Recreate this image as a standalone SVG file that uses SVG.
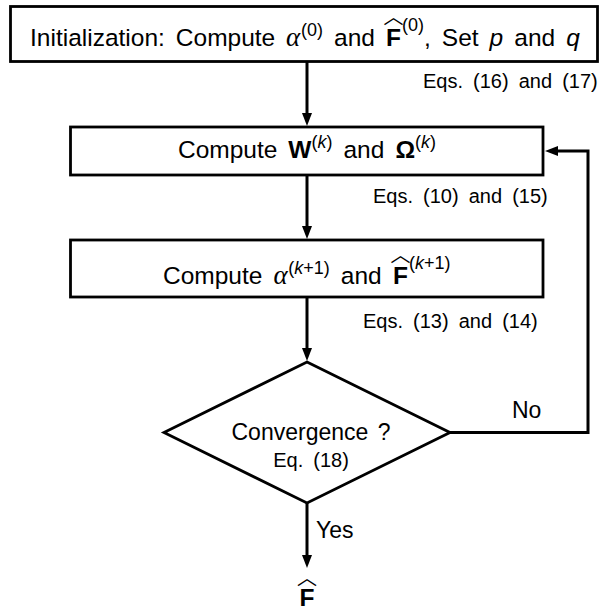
<svg xmlns="http://www.w3.org/2000/svg" width="600" height="613" viewBox="0 0 600 613">
<defs>
<marker id="arr" viewBox="0 0 13 10" refX="7" refY="5" markerWidth="13" markerHeight="10" markerUnits="userSpaceOnUse" orient="auto"><path d="M0,0 L13,5 L0,10 z" fill="#000"/></marker>
</defs>
<style>
.box{fill:#fff;stroke:#000;stroke-width:2.8}
.edge{fill:none;stroke:#000;stroke-width:3}
.t{font-family:"Liberation Sans",Arial,sans-serif;font-size:24.5px;fill:#000;word-spacing:4.2px}
.d{font-family:"Liberation Sans",Arial,sans-serif;font-size:23px;fill:#000;word-spacing:3px}
.s{font-family:"Liberation Sans",Arial,sans-serif;font-size:20px;fill:#000;word-spacing:4.5px}
.m{font-family:"Liberation Serif","Times New Roman",serif;font-style:italic;font-size:27px}
.i{font-style:italic}
.b{font-weight:bold}
.sup{font-size:18px}
.h{font-family:"Noto Sans CJK SC",sans-serif;font-size:20px;font-weight:normal}
</style>
<g id="connectors">
<line class="edge" x1="307" y1="62" x2="307" y2="120" marker-end="url(#arr)"/>
<line class="edge" x1="307" y1="175" x2="307" y2="233" marker-end="url(#arr)"/>
<line class="edge" x1="307" y1="297" x2="307" y2="355" marker-end="url(#arr)"/>
<line class="edge" x1="307" y1="503" x2="307" y2="562" marker-end="url(#arr)"/>
<polyline class="edge" points="450,432.5 588,432.5 588,151 551,151" marker-end="url(#arr)"/>
<text class="d" x="512" y="418">No</text>
<text class="d" x="316" y="538">Yes</text>
</g>
<g id="init">
<rect class="box" x="10.5" y="6.5" width="587" height="55"/>
<text class="t" y="46"><tspan x="30">Initialization: Compute </tspan><tspan class="m" x="286">α</tspan><tspan class="sup" x="301" dy="-10">(0)</tspan><tspan dy="10"> and </tspan><tspan class="b" x="386">F</tspan><tspan class="h" x="383.5" y="24">︿</tspan><tspan class="sup" x="402" y="31">(0)</tspan><tspan y="46">, Set </tspan><tspan class="i">p</tspan> and <tspan class="i">q</tspan></text>
<text class="s" x="423" y="88">Eqs. (16) and (17)</text>
</g>
<g id="computeW">
<rect class="box" x="70.5" y="127" width="472.5" height="48"/>
<text class="t" x="307" y="158" text-anchor="middle">Compute <tspan class="b">W</tspan><tspan class="sup" dy="-10">(<tspan class="i">k</tspan>)</tspan><tspan dy="10"> and </tspan><tspan class="b">Ω</tspan><tspan class="sup" dy="-10">(<tspan class="i">k</tspan>)</tspan></text>
<text class="s" x="373" y="203">Eqs. (10) and (15)</text>
</g>
<g id="computeAlpha">
<rect class="box" x="70.5" y="240" width="472.5" height="57"/>
<text class="t" y="284"><tspan x="163">Compute </tspan><tspan class="m" x="273.4">α</tspan><tspan class="sup" x="288.3" dy="-10">(<tspan class="i">k</tspan>+1)</tspan><tspan dy="10"> and </tspan><tspan class="b" x="393">F</tspan><tspan class="h" x="390.5" y="262">︿</tspan><tspan class="sup" x="409" y="269">(<tspan class="i">k</tspan>+1)</tspan></text>
<text class="s" x="363" y="328">Eqs. (13) and (14)</text>
</g>
<g id="convergence">
<polygon class="box" points="307,362 450,432.5 307,503 164,432.5"/>
<text class="d" x="311" y="440" text-anchor="middle">Convergence ?</text>
<text class="s" x="311" y="467" text-anchor="middle">Eq. (18)</text>
</g>
<g id="output">
<text class="t b" y="606"><tspan x="299.5">F</tspan><tspan class="h" x="297" y="585">︿</tspan></text>
</g>
</svg>
